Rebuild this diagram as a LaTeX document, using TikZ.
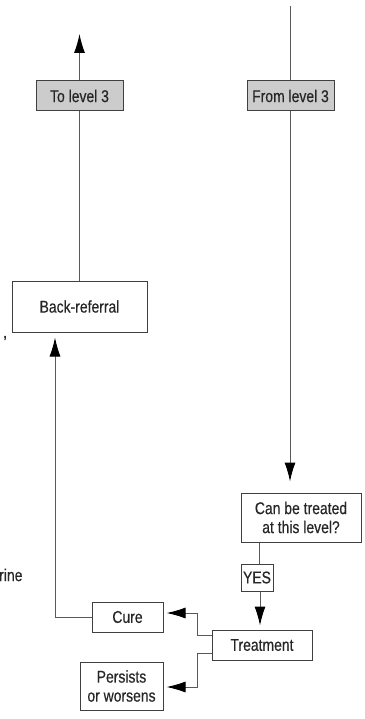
\documentclass[tikz,border=0pt]{standalone}
\usepackage{fontspec}
\setmainfont{Liberation Sans}[FakeStretch=0.82,FakeBold=0.4]
\usetikzlibrary{arrows.meta}
\tikzset{
  box/.style={draw=black!75, line width=1pt, fill=white, inner sep=2pt, align=center,
              text=black!85, font=\fontsize{17}{19}\selectfont},
  graybox/.style={box, fill=black!20},
  link/.style={draw=black!65, line width=1pt},
  arrowlink/.style={link, -{Latex[length=19pt,width=11pt,color=black]}},
  scrap/.style={inner sep=0pt, text=black!85, font=\fontsize{17}{19}\selectfont}
}
\begin{document}
\begin{tikzpicture}[x=1pt, y=-1pt]
  \useasboundingbox (0,0) rectangle (364,719);

  % boxes
  \node[graybox, minimum width=87pt, minimum height=30pt] (tolevel) at (79.5,96) {To level 3};
  \node[graybox, minimum width=87pt, minimum height=30pt] (fromlevel) at (290.5,96) {From level 3};
  \node[box, minimum width=135pt, minimum height=51pt] (back) at (79.5,306.5) {Back-referral};
  \node[box, minimum width=120pt, minimum height=49pt] (can) at (301,517.5) {Can be treated\\at this level?};
  \node[box, minimum width=32pt, minimum height=27pt, inner sep=1pt] (yes) at (257,577.5) {YES};
  \node[box, minimum width=100pt, minimum height=30pt] (treat) at (262,645) {Treatment};
  \node[box, minimum width=71pt, minimum height=30pt] (cure) at (127.5,617) {Cure};
  \node[box, minimum width=83pt, minimum height=48pt] (persist) at (121.5,686) {Persists\\or worsens};

  % text cut off at the left edge
  \node[scrap, anchor=west] (comma) at (3,338) {,};
  \node[scrap, anchor=west] (rine) at (-1,575) {rine};

  % free ends
  \coordinate (uptip) at (79.5,34);
  \coordinate (topin) at (290,6);
  \coordinate (leftx) at (55,617);
  \coordinate (midx) at (197,0);

  % connectors
  \draw[arrowlink] (tolevel.north) -- (uptip);
  \draw[link] (back.north) -- (tolevel.south);
  \draw[link] (topin) -- (topin |- fromlevel.north);
  \draw[arrowlink, shorten >=11pt] (topin |- fromlevel.south) -- (topin |- can.north);
  \draw[link] (yes.north -| 259,0) -- (can.south -| 259,0);
  \draw[arrowlink, shorten >=4pt] (yes.south -| 260,0) -- (treat.north -| 260,0);
  \draw[arrowlink, shorten >=3pt] (treat.west |- 0,635) -- (midx |- 0,635) -- (midx |- 0,613) -- (cure.east |- 0,613);
  \draw[arrowlink, shorten >=3pt] (treat.west |- 0,653) -- (midx |- 0,653) -- (midx |- 0,687) -- (persist.east |- 0,687);
  \draw[arrowlink, shorten >=5pt] (cure.west) -- (leftx) -- (leftx |- back.south);
\end{tikzpicture}
\end{document}
